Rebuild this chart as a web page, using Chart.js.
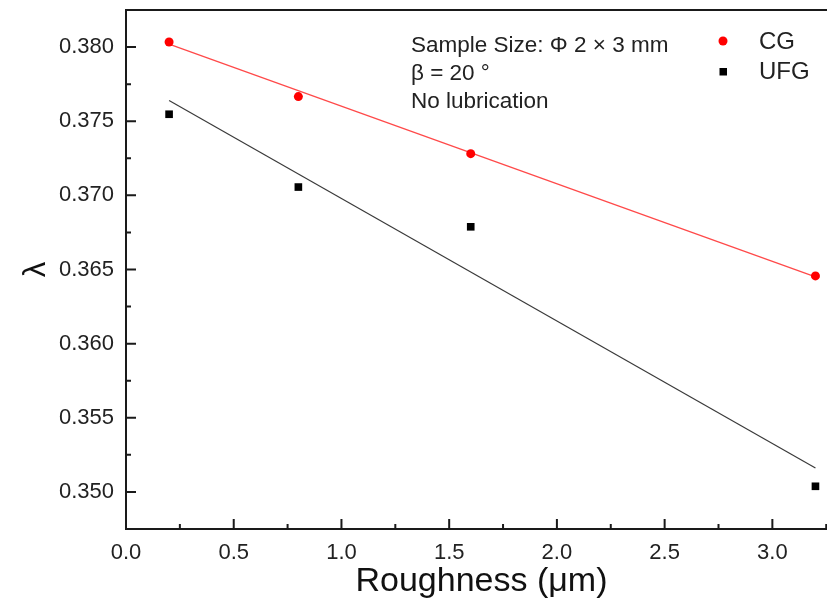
<!DOCTYPE html>
<html>
<head>
<meta charset="utf-8">
<script src="https://cdn.jsdelivr.net/npm/chart.js@4"></script>
<style>
  html, body { margin: 0; padding: 0; background: #fff; overflow: hidden; }
  #wrap { width: 850px; height: 606px; }
</style>
</head>
<body>
<div id="wrap"><canvas id="c" width="850" height="606"></canvas></div>
<script>
// roughness (µm) vs lambda, two grain sizes + linear fits
const roughness = [0.2, 0.8, 1.6, 3.2];
const lambdaCG = [0.38034, 0.37666, 0.37281, 0.36457];
const lambdaUFG = [0.37547, 0.37056, 0.36788, 0.35038];
const fitX = [0.2, 3.2];
const fitCG = [0.3802, 0.3645];
const fitUFG = [0.37639, 0.35162];
const xTicks = [0, 0.5, 1.0, 1.5, 2.0, 2.5, 3.0];
const yTicks = [0.350, 0.355, 0.360, 0.365, 0.370, 0.375, 0.380];
const notes = ["Sample Size: \u03A6 2 \u00D7 3 mm", "\u03B2 = 20 \u00B0", "No lubrication"];

const FONT = "'Liberation Sans', Arial, sans-serif";
const AXIS = "#1a1a1a";
const RED = "#ff0000";

const pts = (xs, ys) => xs.map((x, i) => ({ x, y: ys[i] }));

// inward major/minor ticks, top frame line, legend + notes
const decor = {
  id: "decor",
  afterDatasetsDraw(chart) {
    const { ctx, chartArea: a, scales: { x, y } } = chart;
    ctx.save();
    ctx.strokeStyle = AXIS;
    ctx.lineWidth = 2;
    ctx.beginPath();
    ctx.moveTo(a.left - 1, a.top);
    ctx.lineTo(a.right, a.top);
    // x ticks
    const xs = x.ticks.map((t) => t.value);
    const xh = (xs[1] - xs[0]) / 2;
    xs.forEach((v) => { const p = x.getPixelForValue(v); ctx.moveTo(p, a.bottom); ctx.lineTo(p, a.bottom - 10); });
    for (let v = xs[0] + xh; v <= x.max; v += 2 * xh) {
      const p = x.getPixelForValue(v); ctx.moveTo(p, a.bottom); ctx.lineTo(p, a.bottom - 5);
    }
    // y ticks
    const ys = y.ticks.map((t) => t.value);
    const yh = (ys[1] - ys[0]) / 2;
    ys.forEach((v) => { const p = y.getPixelForValue(v); ctx.moveTo(a.left, p); ctx.lineTo(a.left + 10, p); });
    for (let v = ys[0] - yh; v <= y.max; v += 2 * yh) {
      if (v < y.min) continue;
      const p = y.getPixelForValue(v); ctx.moveTo(a.left, p); ctx.lineTo(a.left + 5, p);
    }
    ctx.stroke();

    // legend
    ctx.fillStyle = RED;
    ctx.beginPath(); ctx.arc(723, 41, 4.5, 0, Math.PI * 2); ctx.fill();
    ctx.fillStyle = "#000";
    ctx.fillRect(719.5, 68, 7.5, 7.5);
    ctx.font = `24px ${FONT}`;
    ctx.textBaseline = "middle";
    ctx.textAlign = "left";
    ctx.fillStyle = "#222";
    ctx.fillText("CG", 759, 42);
    ctx.fillText("UFG", 759, 72);

    // notes
    ctx.font = `22.5px ${FONT}`;
    ctx.textBaseline = "alphabetic";
    notes.forEach((s, i) => ctx.fillText(s, 411, 52 + i * 28));
    ctx.restore();
  },
};

new Chart(document.getElementById("c"), {
  type: "scatter",
  data: {
    datasets: [
      { label: "CG", data: pts(roughness, lambdaCG), pointStyle: "circle", pointRadius: 4.5, pointHoverRadius: 4.5, backgroundColor: RED, borderColor: RED, borderWidth: 0 },
      { label: "UFG", data: pts(roughness, lambdaUFG), pointStyle: "rect", pointRadius: 5.4, pointHoverRadius: 5.4, backgroundColor: "#000", borderColor: "#000", borderWidth: 0 },
      { label: "CG fit", data: pts(fitX, fitCG), showLine: true, pointRadius: 0, borderColor: "#ff4a4a", borderWidth: 1.3 },
      { label: "UFG fit", data: pts(fitX, fitUFG), showLine: true, pointRadius: 0, borderColor: "#3a3a3a", borderWidth: 1.2 },
    ],
  },
  options: {
    responsive: false,
    animation: false,
    layout: { padding: { top: 10, right: 13, left: 0, bottom: 0 } },
    plugins: { legend: { display: false }, tooltip: { enabled: false } },
    scales: {
      x: {
        type: "linear", min: 0, max: 3.3,
        afterBuildTicks: (s) => { s.ticks = xTicks.map((v) => ({ value: v })); },
        afterFit: (s) => { s.height = 77; s.paddingLeft = 0; s.paddingRight = 0; },
        grid: { display: false, drawTicks: false },
        border: { display: true, color: AXIS, width: 2 },
        ticks: { padding: 11, color: "#222", font: { family: FONT, size: 22 }, callback: (v) => Number(v).toFixed(1), maxRotation: 0 },
        title: { display: true, text: "Roughness (\u03BCm)", color: "#111", font: { family: FONT, size: 34 }, padding: { top: 0, bottom: 4 } },
      },
      y: {
        type: "linear", min: 0.3475, max: 0.3825,
        afterBuildTicks: (s) => { s.ticks = yTicks.map((v) => ({ value: v })); },
        afterFit: (s) => { s.width = 126; s.paddingTop = 0; s.paddingBottom = 0; },
        grid: { display: false, drawTicks: false },
        border: { display: true, color: AXIS, width: 2 },
        ticks: { padding: 12, color: "#222", font: { family: FONT, size: 22 }, callback: (v) => Number(v).toFixed(3) },
        title: { display: true, text: "\u03BB", color: "#111", font: { family: FONT, size: 31 }, padding: { top: 18, bottom: 0 } },
      },
    },
  },
  plugins: [decor],
});
</script>
</body>
</html>
